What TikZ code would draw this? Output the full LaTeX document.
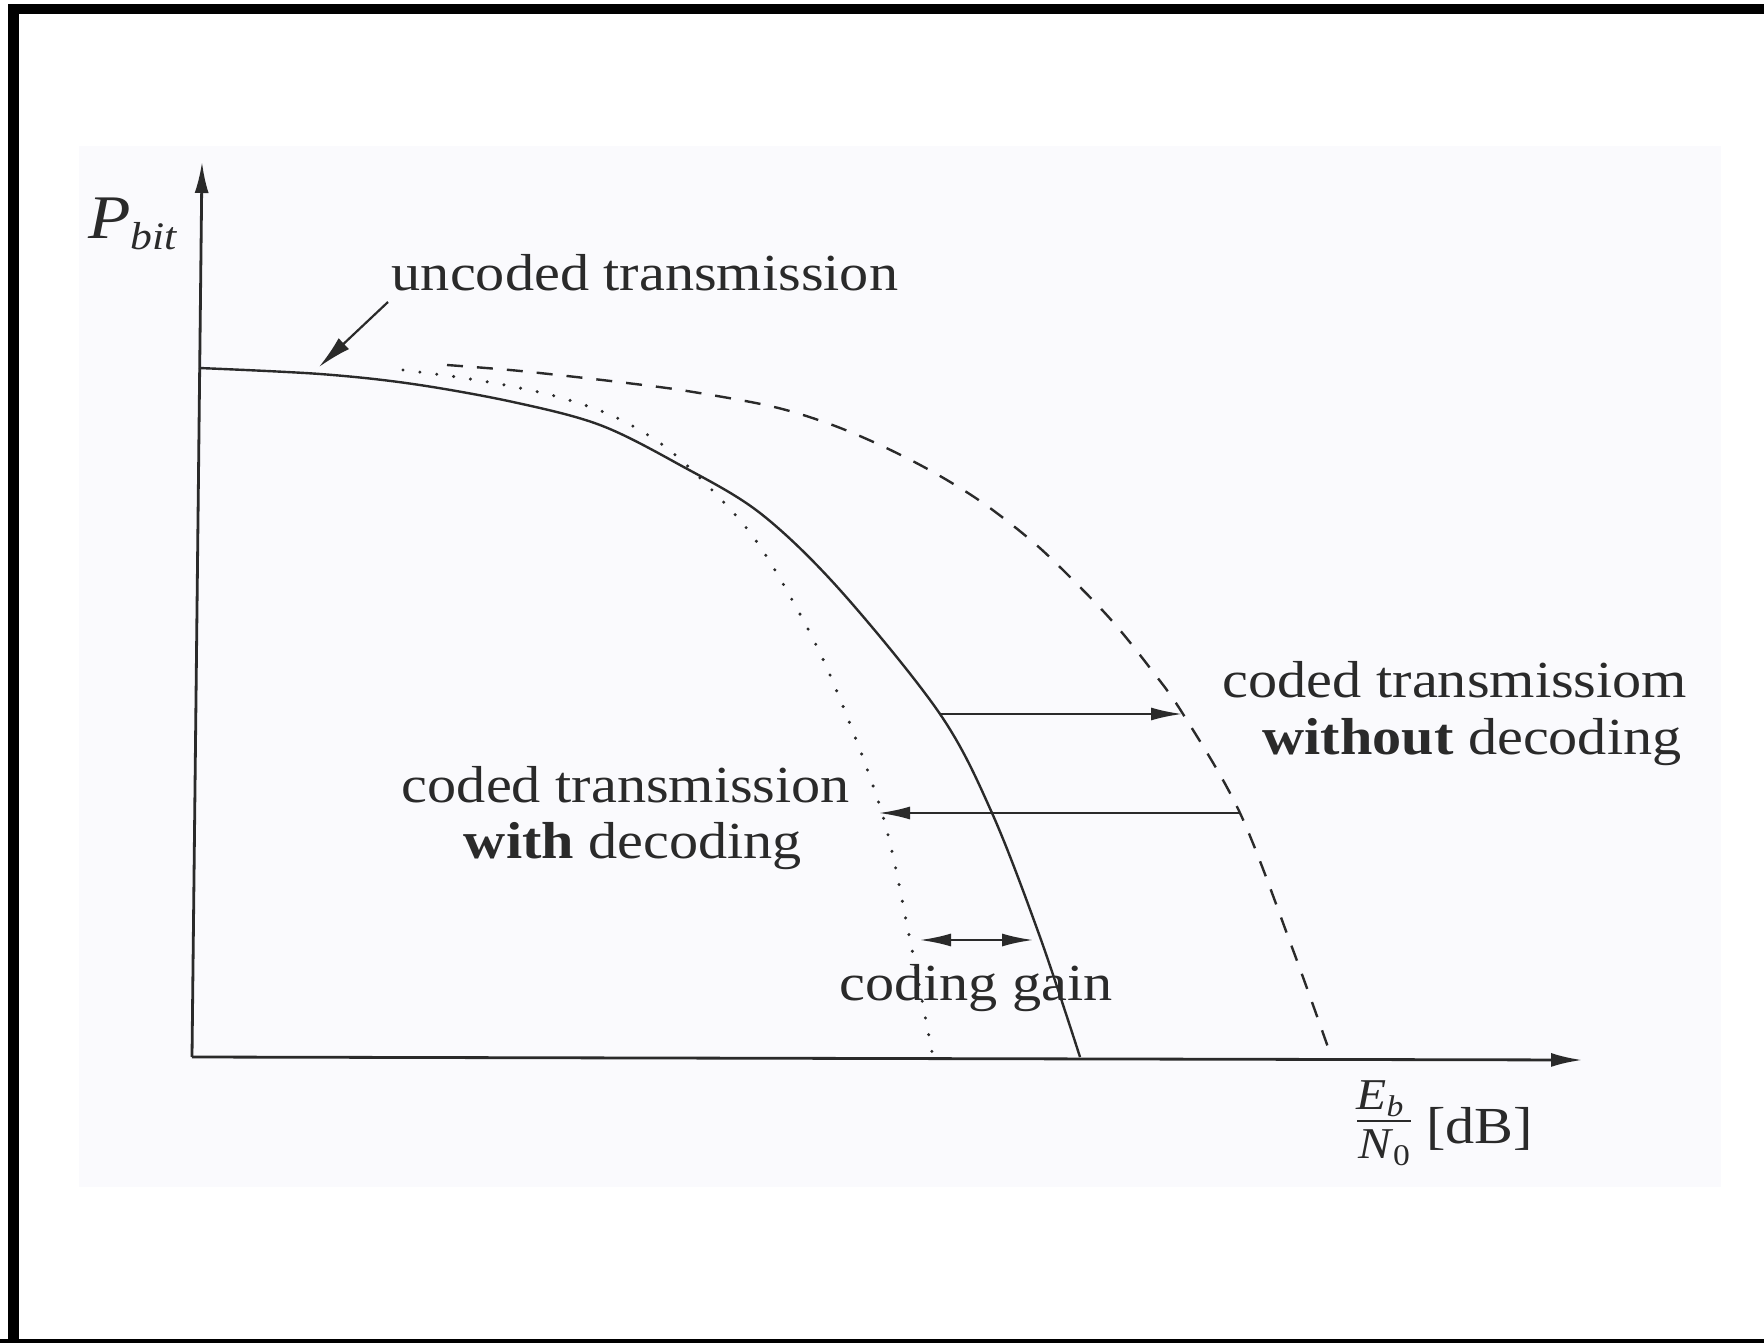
\documentclass[tikz,border=0pt]{standalone}
\usepackage{fontspec}
\setmainfont[FakeStretch=1.12]{Liberation Serif}
\usetikzlibrary{arrows.meta}
\definecolor{ink}{RGB}{42,42,42}
\definecolor{scan}{RGB}{250,250,253}
\newcommand{\fsz}[1]{\fontsize{#1}{#1}\selectfont}
\begin{document}
\begin{tikzpicture}[x=1pt,y=-1pt,
  curve/.style={draw=ink, line width=2.4pt, line join=round},
  dashcurve/.style={curve, dash pattern=on 16pt off 14pt},
  dotcurve/.style={draw=ink, line width=3.4pt, line cap=round, dash pattern=on 0pt off 17pt},
  axis/.style={draw=ink, line width=2.8pt, -{Latex[length=31pt,width=14pt]}},
  pointer/.style={draw=ink, line width=2.2pt, -{Latex[length=31pt,width=13pt]}},
  bipointer/.style={draw=ink, line width=2.2pt, {Latex[length=31pt,width=13pt]}-{Latex[length=31pt,width=13pt]}},
  lbl/.style={text=ink, inner sep=0pt, font={\fsz{52}}},
]
% canvas and scan area
\useasboundingbox (0,0) rectangle (1764,1343);
\fill[white] (0,0) rectangle (1764,1343);
\fill[scan] (79,146) rectangle (1721,1187);
% frame bands
\fill[black] (8,4) rectangle (1764,14);
\fill[black] (8,4) rectangle (19,1343);
\fill[black] (0,1339) rectangle (1764,1343);

% axes
\coordinate (O) at (192,1057);
\coordinate (ytip) at (202,162);
\coordinate (xtip) at (1582,1060);
\draw[axis] (O) -- (ytip);
\draw[axis] (O) -- (xtip);

% uncoded transmission (solid)
\draw[curve] plot[smooth, tension=0.55] coordinates {
 (199,368) (320,374) (413,384) (513,402) (600,425) (680,465) (760,513)
 (840,590) (940,714) (992,813) (1040,937) (1080,1057)};

% coded with decoding (dotted)
\draw[dotcurve] plot[smooth, tension=0.55] coordinates {
 (403,370) (457,377) (510,386) (562,398) (613,416) (660,443) (700,478)
 (748,530) (786,589) (830,675) (882,813) (910,940) (932,1052)};

% coded without decoding (dashed)
\draw[dashcurve] plot[smooth, tension=0.55] coordinates {
 (447,365) (510,370) (567,376) (627,383) (687,391) (770,406) (827,423)
 (880,445) (933,472) (983,503) (1033,542) (1073,580) (1113,622) (1150,668)
 (1183,714) (1240,813) (1293,950) (1330,1053)};

% labels
\node[lbl, anchor=base] (unc) at (645,290) {uncoded transmission};
\node[lbl, anchor=base] (cwo1) at (1455,697) {coded transmissiom};
\node[lbl, anchor=base] (cwo2) at (1472,754) {\textbf{without} decoding};
\node[lbl, anchor=base] (cw1) at (626,802) {coded transmission};
\node[lbl, anchor=base] (cw2) at (633,858) {\textbf{with} decoding};
\node[lbl, anchor=base] (gain) at (976,1000) {coding gain};
\node[lbl, anchor=base west] (pbit) at (88,238) {\fsz{62}\textit{P}\raisebox{-11pt}{\fsz{39}\textit{bit}}};
\node[lbl, anchor=base] (Eb) at (1380,1109) {\fsz{44}\textit{E}\raisebox{-7pt}{\fsz{30}\textit{b}}};
\node[lbl, anchor=base] (N0) at (1384,1158) {\fsz{44}\textit{N}\raisebox{-7pt}{\fsz{30}0}};
\coordinate (barL) at (1357,1121);
\coordinate (barR) at (1411,1121);
\draw[ink, line width=2.3pt] (barL) -- (barR);
\node[lbl, anchor=base west] (dB) at (1426,1143) {[dB]};

% pointers
\coordinate (uncS) at (388,302);
\coordinate (uncE) at (319,367);
\draw[pointer, -{Latex[length=34pt,width=15pt]}] (uncS) -- (uncE);
\coordinate (a1S) at (940,714);
\coordinate (a1E) at (1182,714);
\draw[pointer] (a1S) -- (a1E);
\coordinate (a2S) at (1240,813);
\coordinate (a2E) at (879,813);
\draw[pointer] (a2S) -- (a2E);
\coordinate (gL) at (920,940);
\coordinate (gR) at (1033,940);
\draw[bipointer] (gL) -- (gR);
\end{tikzpicture}
\end{document}
